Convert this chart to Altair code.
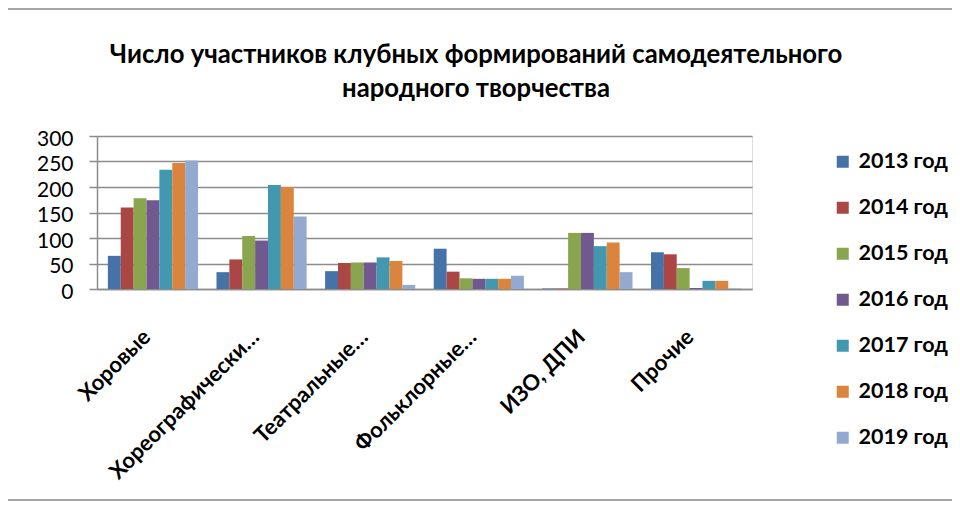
import altair as alt
import pandas as pd

categories = ["Хоровые", "Хореографически…", "Театральные…", "Фольклорные…", "ИЗО, ДПИ", "Прочие"]
years = ["2013 год", "2014 год", "2015 год", "2016 год", "2017 год", "2018 год", "2019 год"]
colors = ["#4572A7", "#AA4643", "#89A54E", "#71588F", "#4198AF", "#DB843D", "#93A9CF"]
title_lines = ["Число участников клубных формирований самодеятельного", "народного творчества"]

v2013 = [65, 33, 35, 79, 1, 72]
v2014 = [160, 58, 51, 34, 1, 68]
v2015 = [178, 104, 52, 21, 110, 41]
v2016 = [174, 95, 52, 20, 110, 2]
v2017 = [234, 204, 62, 20, 84, 16]
v2018 = [247, 200, 55, 20, 91, 16]
v2019 = [252, 142, 8, 26, 33, 1]

series = [v2013, v2014, v2015, v2016, v2017, v2018, v2019]
rows = []
for y, vals in zip(years, series):
    for c, v in zip(categories, vals):
        rows.append({"cat": c, "year": y, "value": v})
df = pd.DataFrame(rows)

FONT = "Lato"

bars = alt.Chart(df).mark_bar().encode(
    x=alt.X("cat:N", sort=categories,
            scale=alt.Scale(paddingInner=0.17, paddingOuter=0.1),
            axis=alt.Axis(title=None, labelAngle=315, labelAlign="right", labelBaseline="middle",
                          labelPadding=44, labelOffset=-6, ticks=False, domain=True,
                          domainColor="#8c8c8c", domainWidth=1.5,
                          labelFont=FONT, labelFontSize=22, labelFontWeight="bold",
                          labelColor="#000000", labelLimit=300)),
    xOffset=alt.XOffset("year:N", sort=years, scale=alt.Scale(paddingInner=0, paddingOuter=0)),
    y=alt.Y("value:Q", scale=alt.Scale(domain=[0, 300]),
            axis=alt.Axis(title=None, values=[0, 50, 100, 150, 200, 250, 300],
                          tickSize=8, tickColor="#8c8c8c", tickWidth=1.5,
                          domainColor="#8c8c8c", domainWidth=1.5,
                          gridColor="#8c8c8c", gridWidth=1.5,
                          labelPadding=16, labelOffset=3,
                          labelFont=FONT, labelFontSize=21, labelColor="#000000")),
    color=alt.Color("year:N", sort=years, scale=alt.Scale(domain=years, range=colors),
                    legend=alt.Legend(title=None, orient="none", legendX=735, legendY=15,
                                      symbolType="square", symbolSize=144, symbolStrokeWidth=0,
                                      symbolOpacity=1, labelOffset=5, rowPadding=23, padding=0,
                                      labelFont=FONT, labelFontSize=21.5, labelFontWeight="bold",
                                      labelColor="#000000", labelLimit=200)),
)

title1 = alt.Chart(alt.Data(values=[{"t": title_lines[0]}])).mark_text(
    font=FONT, fontSize=25.7, fontWeight="bold", color="#000000", align="center", baseline="alphabetic"
).encode(text="t:N", x=alt.value(379), y=alt.value(-73))
title2 = alt.Chart(alt.Data(values=[{"t": title_lines[1]}])).mark_text(
    font=FONT, fontSize=25.7, fontWeight="bold", color="#000000", align="center", baseline="alphabetic"
).encode(text="t:N", x=alt.value(379), y=alt.value(-39))

frame_top = alt.Chart(alt.Data(values=[{"k": 1}])).mark_rule(color="#a6a6a6", strokeWidth=2).encode(
    y=alt.value(-127), x=alt.value(-89), x2=alt.value(855))
frame_bottom = alt.Chart(alt.Data(values=[{"k": 1}])).mark_rule(color="#a6a6a6", strokeWidth=2).encode(
    y=alt.value(364), x=alt.value(-89), x2=alt.value(855))

chart = alt.layer(bars, title1, title2, frame_top, frame_bottom).properties(
    width=655, height=153,
    autosize=alt.AutoSizeParams(type="none"),
    padding={"left": 89, "top": 128, "right": 200, "bottom": 213},
).configure_view(stroke=None).configure(background="#ffffff")

chart.save("out.html", embed_options={"renderer": "svg", "actions": False})
